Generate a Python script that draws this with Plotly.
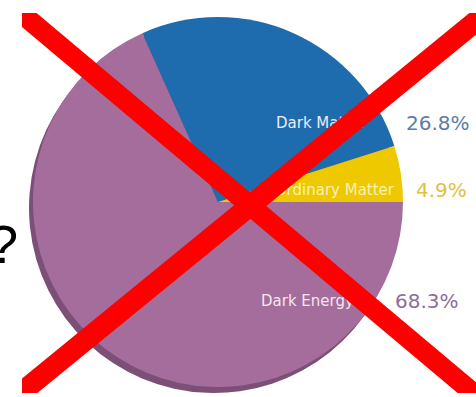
import numpy as np
import plotly.graph_objects as go

# Composition of the universe (percent)
components = ["Dark Energy", "Dark Matter", "Ordinary Matter"]
shares = [68.3, 26.8, 4.9]

face_colors = ["#A56D9C", "#1E6BAE", "#EEC900"]
shade_colors = ["#7C4F77", "#7C4F77", "#8E6A86"]
value_colors = ["#8E6E98", "#5A7DA6", "#E2C040"]
name_colors = ["#F3E6F0", "#E6EEF7", "#FBF0B8"]

W, H = 476, 397


def px(x):
    return x / W


def py(y):
    return 1 - y / H


def pie_domain(cx, cy, r):
    return dict(x=[px(cx - r), px(cx + r)], y=[py(cy + r), py(cy - r)])


fig = go.Figure()

# darker copy underneath gives the disc its rim
fig.add_trace(go.Pie(
    labels=components, values=shares, sort=False, direction="clockwise",
    rotation=90, marker=dict(colors=shade_colors, line=dict(width=0)),
    textinfo="none", hoverinfo="skip", domain=pie_domain(214, 208, 185),
))
fig.add_trace(go.Pie(
    labels=components, values=shares, sort=False, direction="clockwise",
    rotation=90, marker=dict(colors=face_colors, line=dict(width=0)),
    textinfo="none", domain=pie_domain(218, 202, 185),
))

shapes = []


def text_shape(text, x0, x1, y, color, size, side, weight=400):
    return dict(
        type="rect", xref="paper", yref="paper",
        x0=px(x0), x1=px(x1), y0=py(y), y1=py(y),
        line=dict(width=0), layer="above",
        label=dict(text=text, textposition="middle " + side, padding=0,
                   font=dict(family="DejaVu Sans", size=size, color=color,
                             weight=weight)),
    )


# slice names (inside) and values (outside)
name_spans = [(258, 360, "left"), (273, 380, "left"), (262, 397, "right")]
value_left = [392, 403, 413]
rows = [300, 122, 189]
for i, comp in enumerate(components):
    a, b, side = name_spans[i]
    shapes.append(text_shape(comp, a, b, rows[i], name_colors[i], 15, side))
    shapes.append(text_shape(f"{shares[i]}%", value_left[i], value_left[i] + 70,
                             rows[i], value_colors[i], 20, "left"))


# red cross, clipped to a box
def clip_poly(poly, xmin, xmax, ymin, ymax):
    def clip(pts, inside, inter):
        out = []
        for k in range(len(pts)):
            p, q = pts[k - 1], pts[k]
            if inside(q):
                if not inside(p):
                    out.append(inter(p, q))
                out.append(q)
            elif inside(p):
                out.append(inter(p, q))
        return out

    def ix(c):
        return lambda p, q: (c, p[1] + (q[1] - p[1]) * (c - p[0]) / (q[0] - p[0]))

    def iy(c):
        return lambda p, q: (p[0] + (q[0] - p[0]) * (c - p[1]) / (q[1] - p[1]), c)

    pts = list(poly)
    pts = clip(pts, lambda p: p[0] >= xmin, ix(xmin))
    pts = clip(pts, lambda p: p[0] <= xmax, ix(xmax))
    pts = clip(pts, lambda p: p[1] >= ymin, iy(ymin))
    pts = clip(pts, lambda p: p[1] <= ymax, iy(ymax))
    return pts


def stroke(p0, p1, width):
    p0, p1 = np.array(p0, float), np.array(p1, float)
    d = (p1 - p0) / np.linalg.norm(p1 - p0)
    n = np.array([-d[1], d[0]]) * width / 2
    a, b = p0 - d * 60, p1 + d * 60
    poly = [tuple(a + n), tuple(b + n), tuple(b - n), tuple(a - n)]
    pts = clip_poly(poly, 22, W, 13, 393)
    path = "M " + " L ".join(f"{px(x):.5f},{py(y):.5f}" for x, y in pts) + " Z"
    return dict(type="path", xref="paper", yref="paper", path=path,
                fillcolor="#FF0000", line=dict(width=0), layer="above")


shapes.append(stroke((21, 13), (472, 392), 20))
shapes.append(stroke((486, 13), (22, 392), 21))

fig.update_layout(
    width=W, height=H, margin=dict(l=0, r=0, t=0, b=0),
    paper_bgcolor="white", plot_bgcolor="white", showlegend=False,
    shapes=shapes,
    annotations=[dict(text="?", x=px(3), y=py(244), xref="paper", yref="paper",
                      xanchor="center", yanchor="middle", showarrow=False,
                      font=dict(family="Liberation Sans", size=54, color="black"))],
)

fig.write_html("out.html")
